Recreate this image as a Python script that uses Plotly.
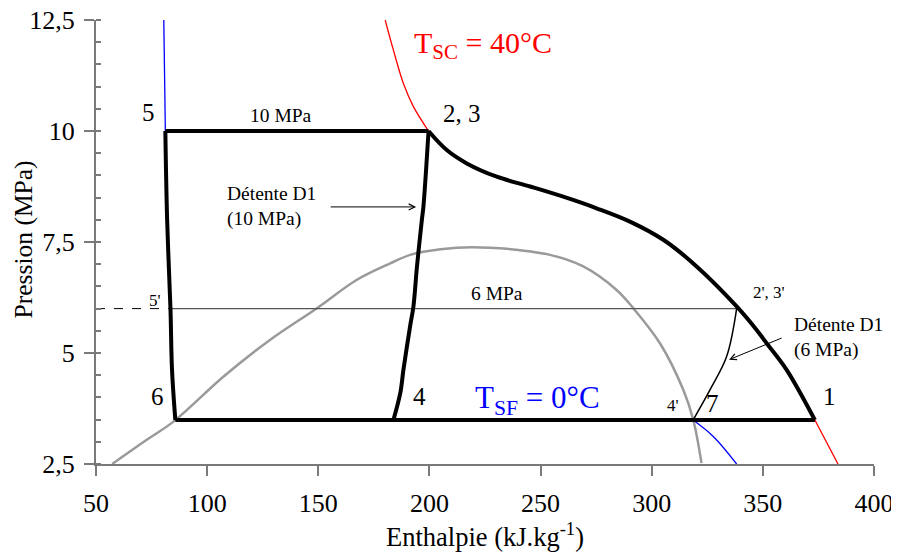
import plotly.graph_objects as go

# ---------------- data (enthalpy kJ/kg, pressure MPa) ----------------
x_ticks = [50, 100, 150, 200, 250, 300, 350, 400]
y_ticks = [2.5, 5, 7.5, 10, 12.5]
y_tick_labels = ["2,5", "5", "7,5", "10", "12,5"]

# cycle states
state_h = {"5": 81.2, "2": 199.6, "6": 85.7, "4": 183.8, "1": 373.4,
           "7": 318.6, "2p": 338.2, "5p": 83.5}
p_high = 10.0
p_mid = 6.0
p_low = 3.49

# saturation dome (grey)
dome_h = [57.3, 73.0, 85.0, 107.4, 128.4, 149.4, 167.4, 182.4, 191.3, 197.3,
          212.3, 227.3, 240.0, 254.3, 269.2, 284.2, 291.7, 303.7, 314.2, 318.7, 322.4]
dome_p = [2.5, 3.05, 3.46, 4.47, 5.30, 6.01, 6.65, 7.02, 7.21, 7.28,
          7.37, 7.37, 7.32, 7.21, 6.95, 6.42, 6.01, 5.22, 4.17, 3.49, 2.52]

# gas cooler path 2 -> 1 (thick black, 40 °C isotherm)
cool_h = [199.6, 207.8, 216.8, 230.3, 245.3, 260.2, 275.2, 290.2, 305.2, 320.2,
          338.2, 347.2, 351.7, 360.7, 373.4]
cool_p = [10.0, 9.57, 9.27, 8.97, 8.75, 8.52, 8.26, 7.96, 7.55, 6.95,
          6.05, 5.52, 5.22, 4.62, 3.49]

# expansion D1 10 MPa : 2,3 -> 4
exp10_h = [199.6, 197.3, 196.6, 194.4, 192.8, 191.3, 188.3, 186.9, 183.8]
exp10_p = [10.0, 8.3, 8.0, 6.95, 6.05, 5.6, 4.62, 4.1, 3.49]

# expansion D1 6 MPa : 2',3' -> 7
exp6_h = [338.2, 333.7, 326.2, 318.6]
exp6_p = [6.0, 4.92, 4.17, 3.49]

# liquid line 5 -> 6
liq_h = [81.2, 82.0, 83.5, 84.2, 85.7]
liq_p = [10.0, 8.0, 6.0, 4.62, 3.49]

# 40 °C isotherm (red) outside cycle
red_up_h = [180.1, 183.8, 188.3, 192.8, 199.6]
red_up_p = [12.5, 11.82, 11.07, 10.55, 10.0]
red_lo_h = [373.4, 383.8]
red_lo_p = [3.49, 2.5]

# 0 °C isotherm (blue) outside cycle
blue_up_h = [80.5, 81.2]
blue_up_p = [12.5, 10.0]
blue_lo_h = [318.6, 327.7, 338.2]
blue_lo_p = [3.49, 3.12, 2.5]

FONT = "Liberation Serif, Times New Roman, serif"

fig = go.Figure()

def line(xs, ys, color, width, shape="linear", dash="solid"):
    fig.add_trace(go.Scatter(x=xs, y=ys, mode="lines",
                             line=dict(color=color, width=width, shape=shape, dash=dash),
                             hoverinfo="skip", showlegend=False))

line(dome_h, dome_p, "#9a9a9a", 2.5, "spline")
line(red_up_h, red_up_p, "#ff0000", 1.3, "spline")
line(red_lo_h, red_lo_p, "#ff0000", 1.3)
line(blue_up_h, blue_up_p, "#0000ff", 1.3)
line(blue_lo_h, blue_lo_p, "#0000ff", 1.3, "spline")
# 6 MPa isobar and dashed guide
line([state_h["5p"], state_h["2p"]], [p_mid, p_mid], "#555555", 1.3)
line([x_ticks[0], state_h["5p"]], [p_mid, p_mid], "#000000", 1, dash="dash")
line(exp6_h, exp6_p, "#000000", 1.5, "spline")
# main cycle
line([state_h["5"], state_h["2"]], [p_high, p_high], "#000000", 4)
line(cool_h, cool_p, "#000000", 4, "spline")
line(exp10_h, exp10_p, "#000000", 4, "spline")
line(liq_h, liq_p, "#000000", 4, "spline")
line([state_h["6"], state_h["1"]], [p_low, p_low], "#000000", 4)

ann = []
def label(text, x, y, size, dx=0, dy=0, color="black", xanchor="center", align="center"):
    ann.append(dict(text=text, x=x, y=y, xref="x", yref="y", showarrow=False,
                    xshift=dx, yshift=dy, xanchor=xanchor, align=align,
                    font=dict(family=FONT, size=size, color=color)))

label("5", state_h["5"], p_high, 25, -17, 19)
label("2, 3", state_h["2"], p_high, 25, 33, 18)
label("10 MPa", 133.4, p_high, 19.5, 0, 16)
label("6", state_h["6"], p_low, 25, -18, 24)
label("4", state_h["4"], p_low, 25, 26, 24)
label("1", state_h["1"], p_low, 25, 15, 24)
label("7", state_h["7"], p_low, 25, 19, 17)
label("4'", state_h["7"], p_low, 17, -20, 15)
label("2', 3'", state_h["2p"], p_mid, 17, 32, 16)
label("5'", state_h["5p"], p_mid, 17, -15, 8)
label("6 MPa", 230.3, p_mid, 19.5, 0, 15)
label("T<sub>SC</sub> = 40°C", 192.1, 12.5, 30, 0, -25, color="#ff0000", xanchor="left")
label("T<sub>SF</sub> = 0°C", 219.8, p_low, 31, 0, 20, color="#0000ff", xanchor="left")
label("Détente D1<br>(10 MPa)", 108.2, 8.31, 19.5, 0, 0, xanchor="left", align="left")
label("Détente D1<br>(6 MPa)", 363.3, 5.36, 19.5, 0, 0, xanchor="left", align="left")

# arrows
ann.append(dict(x=194.0, y=8.29, ax=154.9, ay=8.29, xref="x", yref="y", axref="x", ayref="y",
                text="", showarrow=True, arrowhead=5, arrowsize=1.2, arrowwidth=1, arrowcolor="black"))
ann.append(dict(x=334.8, y=4.85, ax=359.1, ay=5.35, xref="x", yref="y", axref="x", ayref="y",
                text="", showarrow=True, arrowhead=5, arrowsize=1.2, arrowwidth=1, arrowcolor="black"))

# page has an 8 px body margin: figure sized to fit the window
W, H = 891, 551
ml, mr, mt, mb = 87.5, 25, 12, 94.7
pw, ph = W - ml - mr, H - mt - mb

# y-axis title as rotated text (pixel position converted to paper coords)
ann.append(dict(text="Pression (MPa)", x=(15 - ml) / pw, y=(H - mb - 232) / ph,
                xref="paper", yref="paper", showarrow=False, xanchor="center", yanchor="middle",
                textangle=-90, font=dict(family=FONT, size=25.5)))

axis_color = "#7a7a7a"
fig.update_layout(
    width=W, height=H,
    margin=dict(l=ml, r=mr, t=mt, b=mb),
    paper_bgcolor="white", plot_bgcolor="white",
    font=dict(family=FONT, color="black"),
    annotations=ann,
    xaxis=dict(range=[50, 400], tickvals=x_ticks, showgrid=False, zeroline=False,
               showline=True, linecolor=axis_color, linewidth=2, automargin=False,
               ticks="outside", ticklen=10, tickwidth=1.5, tickcolor=axis_color,
               tickfont=dict(family=FONT, size=26), ticklabelstandoff=5,
               ticklabeloverflow="allow",
               title=dict(text="Enthalpie (kJ.kg<sup>-1</sup>)", font=dict(family=FONT, size=26.5),
                          standoff=9)),
    yaxis=dict(range=[2.5, 12.5], tickvals=y_ticks, ticktext=y_tick_labels, showgrid=False,
               zeroline=False, showline=True, linecolor=axis_color, linewidth=2, automargin=False,
               ticks="outside", ticklen=10, tickwidth=1.5, tickcolor=axis_color,
               tickfont=dict(family=FONT, size=26), ticklabelstandoff=4,
               ticklabeloverflow="allow",
               minor=dict(dtick=0.5, tick0=2.5, ticks="inside", ticklen=5, tickwidth=1.5,
                          tickcolor=axis_color, showgrid=False)),
    yaxis2=dict(range=[2.5, 12.5], overlaying="y", side="left", tickvals=y_ticks,
                showticklabels=False, showgrid=False, zeroline=False, showline=False,
                automargin=False,
                ticks="inside", ticklen=5, tickwidth=1.5, tickcolor=axis_color),
)
fig.add_trace(go.Scatter(x=[None], y=[None], yaxis="y2", showlegend=False, hoverinfo="skip"))

fig.write_html("out.html")
